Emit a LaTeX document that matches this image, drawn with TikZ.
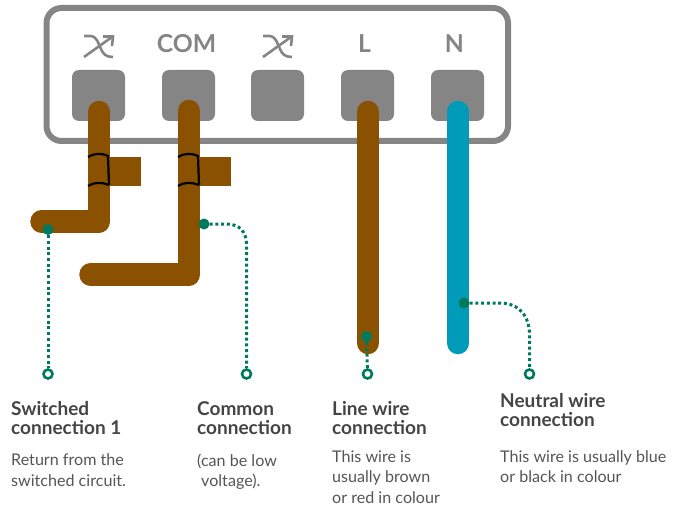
\documentclass[tikz,border=0pt]{standalone}
\usepackage{fontspec}
\setmainfont{Lato}
\definecolor{boxgray}{HTML}{858585}
\definecolor{brownwire}{HTML}{8A5200}
\definecolor{bluewire}{HTML}{009BB8}
\definecolor{dotgreen}{HTML}{007A5E}
\definecolor{headtext}{HTML}{444444}
\definecolor{bodytext}{HTML}{555555}
\tikzset{
  terminal/.style={fill=boxgray,rounded corners=7pt},
  termlabel/.style={text=boxgray,font=\fontsize{24.7}{25}\selectfont\bfseries,anchor=base,inner sep=0pt},
  wire/.style={line width=22.5pt,line cap=round,line join=round,draw=#1},
  stub/.style={fill=brownwire},
  loopmark/.style={draw=black,line width=2.2pt},
  leader/.style={draw=dotgreen,line width=3pt,dash pattern=on 3pt off 2.7pt},
  dotend/.style={circle,fill=dotgreen,inner sep=0pt,minimum size=11pt},
  ringend/.style={circle,draw=dotgreen,fill=white,line width=2.6pt,inner sep=0pt,minimum size=9pt},
  headtxt/.style={anchor=north west,align=left,inner sep=0pt,text=headtext,font=\fontsize{19}{19}\selectfont\bfseries},
  bodytxt/.style={anchor=north west,align=left,inner sep=0pt,text=bodytext,font=\fontsize{16.1}{20.6}\selectfont},
  shuffle/.style={draw=boxgray,line width=2.6pt},
}
\begin{document}
\begin{tikzpicture}[x=1pt,y=-1pt]
\useasboundingbox (0,0) rectangle (674,505);
% housing
\draw[draw=boxgray,line width=6pt,rounded corners=15pt] (46.5,8) rectangle (508,141);
% terminals
\fill[terminal] (72,70) rectangle (125,121);
\fill[terminal] (162,70) rectangle (215,121);
\fill[terminal] (251,70) rectangle (304,121);
\fill[terminal] (341,70) rectangle (394,121);
\fill[terminal] (431,70) rectangle (484,121);
% labels
\node[termlabel] (com) at (186.5,52.5) {COM};
\node[termlabel] (lbl) at (364.5,52.5) {L};
\node[termlabel] (nlbl) at (454.5,52.5) {N};
% shuffle icons
\foreach \dx in {0,179}{
  \begin{scope}[xshift=\dx pt]
  \draw[shuffle] (84,36) -- (90,36) .. controls (97,36) and (98,43) .. (101,49) .. controls (103,54) and (106,57) .. (113,57);
  \draw[shuffle] (84,57) -- (112,37);
  \draw[shuffle] (103,36.5) -- (113,36.5) -- (112,46);
  \end{scope}
}
% stubs
\fill[stub] (105,157) rectangle (141,186);
\fill[stub] (195,157) rectangle (231,186);
% wires
\draw[wire=brownwire] (99,112) -- (99,221.5) -- (41.5,221.5);
\draw[wire=brownwire] (189,111) -- (189,274.5) -- (90.5,274.5);
\draw[wire=brownwire] (368,112) -- (368,343);
\draw[wire=bluewire] (458,112) -- (458,343);
% loop marks
\foreach \dx in {0,90}{
  \begin{scope}[xshift=\dx pt]
  \draw[loopmark] (88,157) .. controls (94,153) and (102,153) .. (108,156) -- (109,185);
  \draw[loopmark] (88,186) .. controls (94,182) and (102,182) .. (109,185);
  \end{scope}
}
% leaders
\node[dotend] (d1) at (48,229.5) {};
\node[ringend] (r1) at (48,374) {};
\node[dotend] (d2) at (204,224) {};
\node[ringend] (r2) at (246.5,374) {};
\node[dotend] (d3) at (366.5,336.5) {};
\node[ringend] (r3) at (367.5,374) {};
\node[dotend] (d4) at (464,303) {};
\node[ringend] (r4) at (529.5,374) {};
\draw[leader] (d1) -- (r1);
\draw[leader] (d2) -- (226,224) .. controls (240,224) and (246.5,232) .. (246.5,245) -- (r2);
\draw[leader] (d3) -- (r3);
\draw[leader] (d4) -- (500,303) .. controls (519,303) and (529.5,316) .. (529.5,335) -- (r4);
% text
\node[headtxt] (h1) at (11,401) {Switched\\connection 1};
\node[bodytxt] (b1) at (11,453.5) {Return from the\\switched circuit.};
\node[headtxt] (h2) at (197,401) {Common\\connection};
\node[bodytxt] (b2) at (197,453.5) {(can be low\\\hspace*{4pt}voltage).};
\node[headtxt] (h3) at (332,401) {Line wire\\connection};
\node[bodytxt] (b3) at (332,450) {This wire is\\usually brown\\or red in colour};
\node[headtxt] (h4) at (500,393) {Neutral wire\\connection};
\node[bodytxt] (b4) at (500,450) {This wire is usually blue\\or black in colour};
\end{tikzpicture}
\end{document}
